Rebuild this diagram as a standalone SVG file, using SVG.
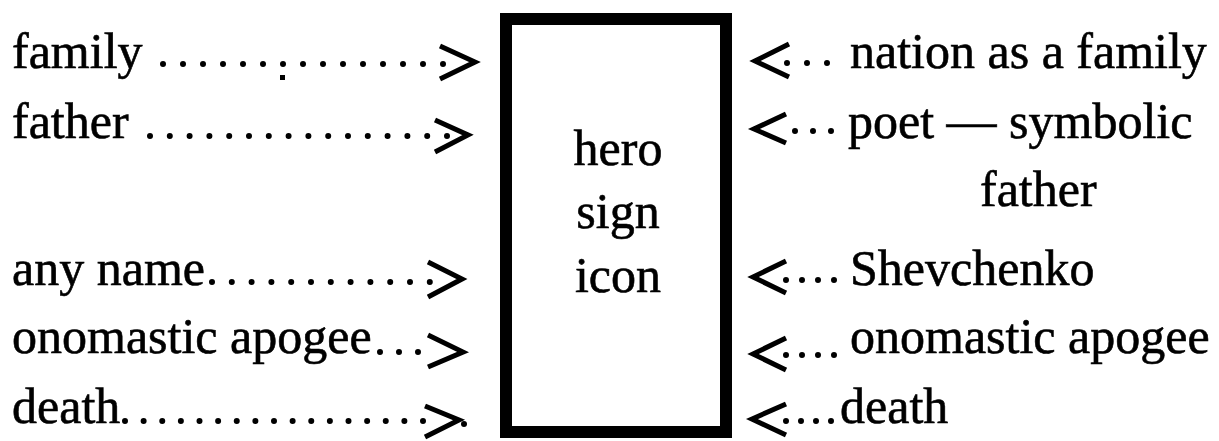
<svg xmlns="http://www.w3.org/2000/svg" width="1219" height="441" viewBox="0 0 1219 441">
<style>
  .t { font-family: "Liberation Serif", "Times New Roman", serif; font-size: 50px; fill: #000; stroke: #000; stroke-width: 0.6; }
  .mid { text-anchor: middle; }
  .dots { fill: none; stroke: #000; stroke-width: 6; stroke-linecap: round; }
  .head { fill: none; stroke: #000; stroke-width: 5; stroke-linejoin: miter; stroke-linecap: butt; }
  .box { fill: #fff; stroke: #000; stroke-width: 12; }
</style>
<rect width="1219" height="441" fill="#fff"/>

<g id="box">
  <rect class="box" x="506" y="19" width="220" height="413"/>
  <text class="t mid" x="618" y="165">hero</text>
  <text class="t mid" x="618" y="228">sign</text>
  <text class="t mid" x="618" y="292">icon</text>
</g>

<g id="left-family"><text class="t" x="12" y="68">family</text></g>
<g id="left-father"><text class="t" x="12" y="138">father</text></g>
<g id="left-anyname"><text class="t" x="12" y="285">any name</text></g>
<g id="left-onomastic"><text class="t" x="12" y="353">onomastic apogee</text></g>
<g id="left-death"><text class="t" x="12" y="423">death</text></g>

<g id="right-nation"><text class="t" x="850" y="68">nation as a family</text></g>
<g id="right-poet">
  <text class="t" x="848" y="138">poet — symbolic</text>
  <text class="t" x="980" y="206">father</text>
</g>
<g id="right-shevchenko"><text class="t" x="850" y="285">Shevchenko</text></g>
<g id="right-onomastic"><text class="t" x="850" y="353">onomastic apogee</text></g>
<g id="right-death"><text class="t" x="840" y="423">death</text></g>

<g id="connectors">
  <!-- left dotted leaders -->
  <path class="dots" d="M163,64 H444" stroke-dasharray="0 20"/>
  <rect x="280" y="75" width="5" height="5" fill="#000"/>
  <path class="dots" d="M150,136 H448" stroke-dasharray="0 19.8"/>
  <path class="dots" d="M212,282 H431" stroke-dasharray="0 19.8"/>
  <path class="dots" d="M380,352 H419" stroke-dasharray="0 19"/>
  <path class="dots" d="M125,421 H424" stroke-dasharray="0 18.625"/>
  <circle cx="464" cy="424" r="3" fill="#000"/>
  <!-- left arrowheads -->
  <polyline class="head" points="440,46 475,62 440,79"/>
  <polyline class="head" points="435,120 468,135 435,152"/>
  <polyline class="head" points="428,262 462,279 428,297"/>
  <polyline class="head" points="428,335 463,352 428,367"/>
  <polyline class="head" points="425,406 459,420 425,437"/>
  <!-- right dotted leaders -->
  <path class="dots" d="M787,63 H828" stroke-dasharray="0 20"/>
  <path class="dots" d="M795,131 H832" stroke-dasharray="0 18"/>
  <path class="dots" d="M786,280 H835" stroke-dasharray="0 16"/>
  <path class="dots" d="M786,355 H835" stroke-dasharray="0 16"/>
  <path class="dots" d="M786,421 H832" stroke-dasharray="0 15"/>
  <!-- right arrowheads -->
  <polyline class="head" points="789,44 755,61 789,77"/>
  <polyline class="head" points="786,114 754,129 786,143"/>
  <polyline class="head" points="786,261 753,277 786,293"/>
  <polyline class="head" points="786,338 753,354 786,370"/>
  <polyline class="head" points="786,404 752,419 786,435"/>
</g>
</svg>
